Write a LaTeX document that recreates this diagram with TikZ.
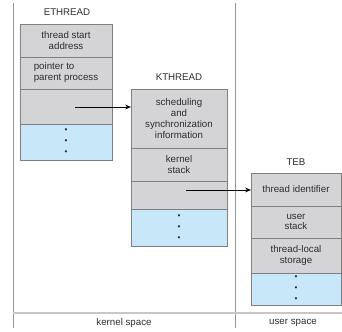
\documentclass[tikz,border=0pt]{standalone}
\usepackage{fontspec}
\setmainfont{Liberation Sans}
\usetikzlibrary{arrows.meta}
\definecolor{cellgray}{RGB}{212,212,214}
\definecolor{cellblue}{RGB}{200,232,250}
\definecolor{rulegray}{RGB}{150,150,150}
\definecolor{txtgray}{RGB}{45,45,45}
\begin{document}
\begin{tikzpicture}[x=0.03cm, y=-0.03cm,
	every node/.style={text=txtgray, font=\fontsize{8.3}{9.2}\selectfont},
	cell/.style={draw=gray, line width=0.6pt, fill=cellgray, inner sep=0pt, outer sep=0pt, align=center},
	more/.style={cell, fill=cellblue, font=\fontsize{7}{9.4}\selectfont},
	link/.style={-{Stealth[length=5pt, width=4pt]}, line width=0.6pt, black}]
	\useasboundingbox (0,0) rectangle (342,331);

	% space dividers
	\coordinate (L1) at (13,3);
	\coordinate (L2) at (13,328);
	\coordinate (M1) at (235,3);
	\coordinate (M2) at (235,328);
	\coordinate (B1) at (13,313);
	\coordinate (B2) at (342,313);
	\draw [rulegray, line width=0.7pt] (L1) -- (L2);
	\draw [rulegray, line width=0.7pt] (M1) -- (M2);
	\draw [black!22, line width=1.5pt] (B1) -- (B2);
	\node(ks) at (124,323){kernel space};
	\node(us) at (293,323){user space};

	% ETHREAD
	\node(eh) at (67,12){ETHREAD};
	\node[cell, minimum width=2.76cm, minimum height=0.99cm](e1) at (66,40.5){thread start\\address};
	\node[cell, minimum width=2.76cm, minimum height=0.96cm](e2) at (66,73){\begin{tabular}{@{}l@{}}pointer to\\parent process\end{tabular}};
	\node[cell, minimum width=2.76cm, minimum height=1.05cm](e3) at (66,106.5){};
	\node[more, minimum width=2.76cm, minimum height=1.08cm](e4) at (66,142){\textbullet\\\textbullet\\\textbullet};

	% KTHREAD
	\node(kh) at (179,77){KTHREAD};
	\node[cell, minimum width=2.88cm, minimum height=1.77cm](k1) at (179,118.5){scheduling\\and\\synchronization\\information};
	\node[cell, minimum width=2.88cm, minimum height=0.99cm](k2) at (179,164.5){kernel\\stack};
	\node[cell, minimum width=2.88cm, minimum height=0.84cm](k3) at (179,195){};
	\node[more, minimum width=2.88cm, minimum height=1.11cm](k4) at (179,227.5){\textbullet\\\textbullet\\\textbullet};

	% TEB
	\node(th) at (296,162){TEB};
	\node[cell, minimum width=2.7cm, minimum height=0.99cm](t1) at (296,189.5){thread identifier};
	\node[cell, minimum width=2.7cm, minimum height=0.96cm](t2) at (296,222){user\\stack};
	\node[cell, minimum width=2.7cm, minimum height=1.05cm](t3) at (296,255.5){thread-local\\storage};
	\node[more, minimum width=2.7cm, minimum height=0.96cm](t4) at (296,289){\textbullet\\\textbullet\\\textbullet};

	\coordinate (p1) at (75,107);
	\coordinate (p2) at (186,190);
	\draw [link] (p1) -- (p1 -| k1.west);
	\draw [link] (p2) -- (p2 -| t1.west);
\end{tikzpicture}
\end{document}
